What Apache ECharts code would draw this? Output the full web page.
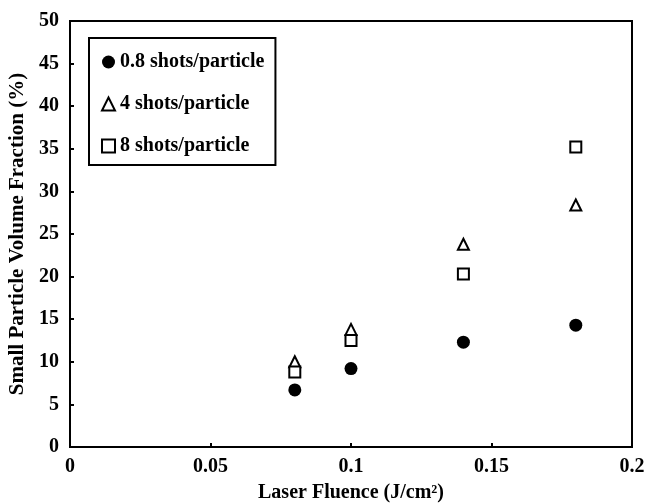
<!DOCTYPE html>
<html>
<head>
<meta charset="utf-8">
<script src="https://cdn.jsdelivr.net/npm/echarts@6/dist/echarts.min.js"></script>
<style>
  html, body { margin: 0; padding: 0; background: #fff; }
  #chart { width: 650px; height: 504px; }
</style>
</head>
<body>
<div id="chart"></div>
<script>
  // data
  var fluence = [0.08, 0.1, 0.14, 0.18];
  var shots08 = [6.7, 9.2, 12.3, 14.3];
  var shots4 = [10.0, 13.8, 23.8, 28.4];
  var shots8 = [8.8, 12.5, 20.3, 35.2];
  var seriesNames = ['0.8 shots/particle', '4 shots/particle', '8 shots/particle'];

  function pairs(ys) {
    return fluence.map(function (x, i) { return [x, ys[i]]; });
  }

  var font = 'Liberation Serif';
  var myChart = echarts.init(document.getElementById('chart'));
  var option = {
    animation: false,
    textStyle: { fontFamily: font },
    grid: {
      left: 70, right: 18, top: 21, bottom: 57,
      outerBoundsMode: 'none',
      show: true, borderColor: '#000', borderWidth: 2, backgroundColor: 'transparent'
    },
    legend: {
      orient: 'vertical',
      left: 89, top: 38,
      padding: [14, 11, 9, 12],
      itemGap: 22,
      itemWidth: 13, itemHeight: 13,
      borderColor: '#000', borderWidth: 2,
      textStyle: { fontFamily: font, fontSize: 20, fontWeight: 'bold', color: '#000' },
      data: seriesNames
    },
    xAxis: {
      type: 'value',
      min: 0, max: 0.2, interval: 0.05,
      name: 'Laser Fluence (J/cm²)',
      nameLocation: 'middle',
      nameGap: 36,
      nameTextStyle: { fontFamily: font, fontSize: 20, fontWeight: 'bold', color: '#000' },
      axisLine: { lineStyle: { color: '#000', width: 2 } },
      axisTick: { inside: true, length: 4, lineStyle: { color: '#000', width: 2 } },
      axisLabel: { fontFamily: font, fontSize: 20, fontWeight: 'bold', color: '#000', margin: 10 },
      splitLine: { show: false }
    },
    yAxis: {
      type: 'value',
      min: 0, max: 50, interval: 5,
      name: 'Small Particle Volume Fraction (%)',
      nameLocation: 'middle',
      nameGap: 40,
      nameTextStyle: { fontFamily: font, fontSize: 21, fontWeight: 'bold', color: '#000' },
      axisLine: { lineStyle: { color: '#000', width: 2 } },
      axisTick: { inside: true, length: 4, lineStyle: { color: '#000', width: 2 } },
      axisLabel: { fontFamily: font, fontSize: 20, fontWeight: 'bold', color: '#000', margin: 11 },
      splitLine: { show: false }
    },
    series: [{
      name: seriesNames[0],
      type: 'scatter',
      symbol: 'circle',
      symbolSize: 13,
      itemStyle: { color: '#000', opacity: 1 },
      data: pairs(shots08)
    }, {
      name: seriesNames[1],
      type: 'scatter',
      symbol: 'triangle',
      symbolSize: 11,
      itemStyle: { color: '#fff', borderColor: '#000', borderWidth: 2, opacity: 1 },
      data: pairs(shots4)
    }, {
      name: seriesNames[2],
      type: 'scatter',
      symbol: 'rect',
      symbolSize: 11,
      itemStyle: { color: '#fff', borderColor: '#000', borderWidth: 2, opacity: 1 },
      data: pairs(shots8)
    }]
  };
  myChart.setOption(option);
</script>
</body>
</html>
